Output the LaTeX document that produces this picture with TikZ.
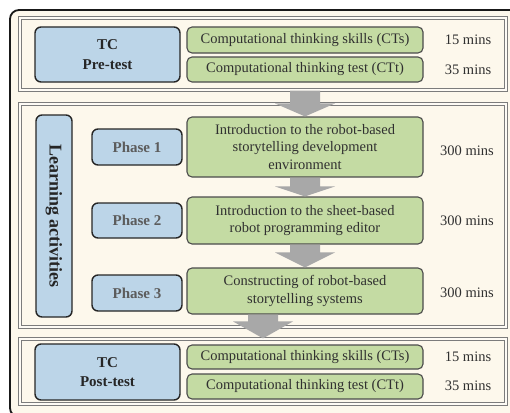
\documentclass[tikz,border=0pt]{standalone}
\usepackage{fontspec}
\setmainfont{Liberation Serif}
\usetikzlibrary{calc}
\definecolor{cream}{HTML}{FDF8EC}
\definecolor{bluefill}{HTML}{BCD5E8}
\definecolor{greenfill}{HTML}{C4DBA3}
\definecolor{framegray}{HTML}{7C7C7C}
\definecolor{arrowgray}{HTML}{A8A8A8}
\definecolor{phasetext}{HTML}{5C5C5C}
\definecolor{bodytext}{HTML}{303030}

\begin{document}
\begin{tikzpicture}[x=1pt,y=-1pt,
  section/.style={draw=framegray, line width=1.2pt, double=cream!50!white,
    double distance=1.2pt, inner sep=0pt},
  bluebox/.style={draw=black!85, line width=1.4pt, fill=bluefill,
    rounded corners=6pt, align=center, inner sep=0pt, text=black!85,
    font=\bfseries\fontsize{15}{19.5}\selectfont},
  phasebox/.style={bluebox, text=phasetext, minimum width=90pt},
  greenbox/.style={draw=black!70, line width=1.1pt, fill=greenfill,
    rounded corners=5pt, align=center, inner sep=0pt, text=bodytext,
    minimum width=236pt, font=\fontsize{14.5}{17.5}\selectfont},
  timetext/.style={text=bodytext, inner sep=0pt, font=\fontsize{14.5}{17}\selectfont},
  blockarrow/.style={fill=arrowgray}]

\useasboundingbox (0,0) rectangle (510,412);
\begin{scope}
  \clip (0,0) rectangle (510,412);
  \fill[white] (0,0) rectangle (510,412);
  \draw[black!90, line width=1.8pt, fill=cream, rounded corners=9pt]
    (10,10) rectangle (522,417);
\end{scope}

% three stages
\node[section, minimum width=486pt, minimum height=72pt] (s1) at (263,54) {};
\node[section, minimum width=486pt, minimum height=223pt] (s2) at (263,215.5) {};
\node[section, minimum width=486pt, minimum height=65pt] (s3) at (263,371.5) {};

% pre-test
\node[bluebox, minimum width=145pt, minimum height=55pt] (pre) at (107.5,54.5) {TC\\Pre-test};
\node[greenbox, minimum height=26pt] (ct1) at (305,40) {Computational thinking skills (CTs)};
\node[greenbox, minimum height=25pt] (ct2) at (305,69.5) {Computational thinking test (CTt)};
\node[timetext] (t1) at (468,40) {15 mins};
\node[timetext] (t2) at (468,70) {35 mins};

% learning activities
\node[bluebox, minimum width=36pt, minimum height=202pt,
  font=\bfseries\fontsize{18}{20}\selectfont] (learn) at (54,216) {};
\node[rotate=-90, text=black!85, inner sep=0pt,
  font=\bfseries\fontsize{18}{20}\selectfont] (learntext) at (learn.center) {Learning activities};

\node[phasebox, minimum height=36pt] (ph1) at (137,147) {Phase 1};
\node[greenbox, minimum height=60pt] (g1) at (305,147)
  {Introduction to the robot-based\\storytelling development\\environment};
\node[timetext] (m1) at (467,151) {300 mins};

\node[phasebox, minimum height=35pt] (ph2) at (137,220.5) {Phase 2};
\node[greenbox, minimum height=47pt] (g2) at (305,220.5)
  {Introduction to the sheet-based\\robot programming editor};
\node[timetext] (m2) at (467,221) {300 mins};

\node[phasebox, minimum height=36pt] (ph3) at (137,293) {Phase 3};
\node[greenbox, minimum height=46pt] (g3) at (305,291)
  {Constructing of robot-based\\storytelling systems};
\node[timetext] (m3) at (467,293) {300 mins};

% post-test
\node[bluebox, minimum width=145pt, minimum height=56pt] (post) at (107.5,372) {TC\\Post-test};
\node[greenbox, minimum height=24pt] (pt1) at (305,357) {Computational thinking skills (CTs)};
\node[greenbox, minimum height=25pt] (pt2) at (305,386.5) {Computational thinking test (CTt)};
\node[timetext] (t3) at (468,357) {15 mins};
\node[timetext] (t4) at (468,386) {35 mins};

% block arrows: #1 start, #2 tip, #3 head length
\newcommand\flowarrow[3]{%
  \fill[blockarrow]
    ($(#1 -| #2)+(-15,0)$) -- ($(#1 -| #2)+(15,0)$) --
    ($(#2)+(15,-#3)$) -- ($(#2)+(30,-#3)$) -- (#2) --
    ($(#2)+(-30,-#3)$) -- ($(#2)+(-15,-#3)$) -- cycle;}
\flowarrow{s1.south}{g1.north}{13}
\flowarrow{g1.south}{g2.north}{10}
\flowarrow{g2.south}{g3.north}{15}
\flowarrow{g3.south}{s3.north}{17}
\end{tikzpicture}
\end{document}
